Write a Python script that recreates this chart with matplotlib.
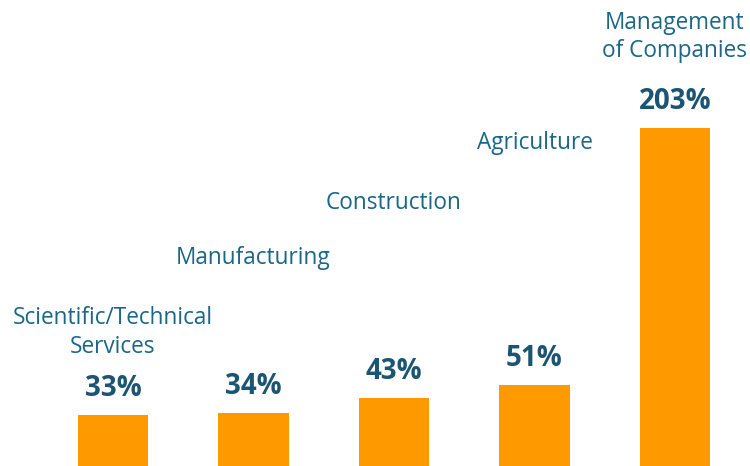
import matplotlib.pyplot as plt

# Data
categories = ["Scientific/Technical\nServices", "Manufacturing", "Construction",
              "Agriculture", "Management\nof Companies"]
values = [33, 34, 43, 51, 203]

# Layout: height (in data units) where each category name sits
name_heights = [82, 126, 158.5, 194, 257]

bar_color = "#FF9900"
name_color = "#1A6787"
value_color = "#1B5573"

fig = plt.figure(figsize=(7.5, 4.66), dpi=100)
ax = fig.add_axes([0, 0, 1, 1])

x = range(len(categories))
ax.bar(x, values, width=0.5, color=bar_color)

# Value labels above bars
for i, v in enumerate(values):
    ax.annotate(f"{v}%", (i, v), xytext=(0, 19), textcoords="offset points",
                ha="center", va="center", fontsize=20, fontweight="bold",
                color=value_color, family="Open Sans")

# Category names in a staircase
for i, (name, h) in enumerate(zip(categories, name_heights)):
    ax.text(i, h, name, ha="center", va="center", fontsize=16.3,
            color=name_color, family="Open Sans", linespacing=1.25)

ax.set_xlim(-0.804, 4.534)
ax.set_ylim(2.8, 279)
ax.axis("off")

plt.savefig("out.png")
plt.close()
